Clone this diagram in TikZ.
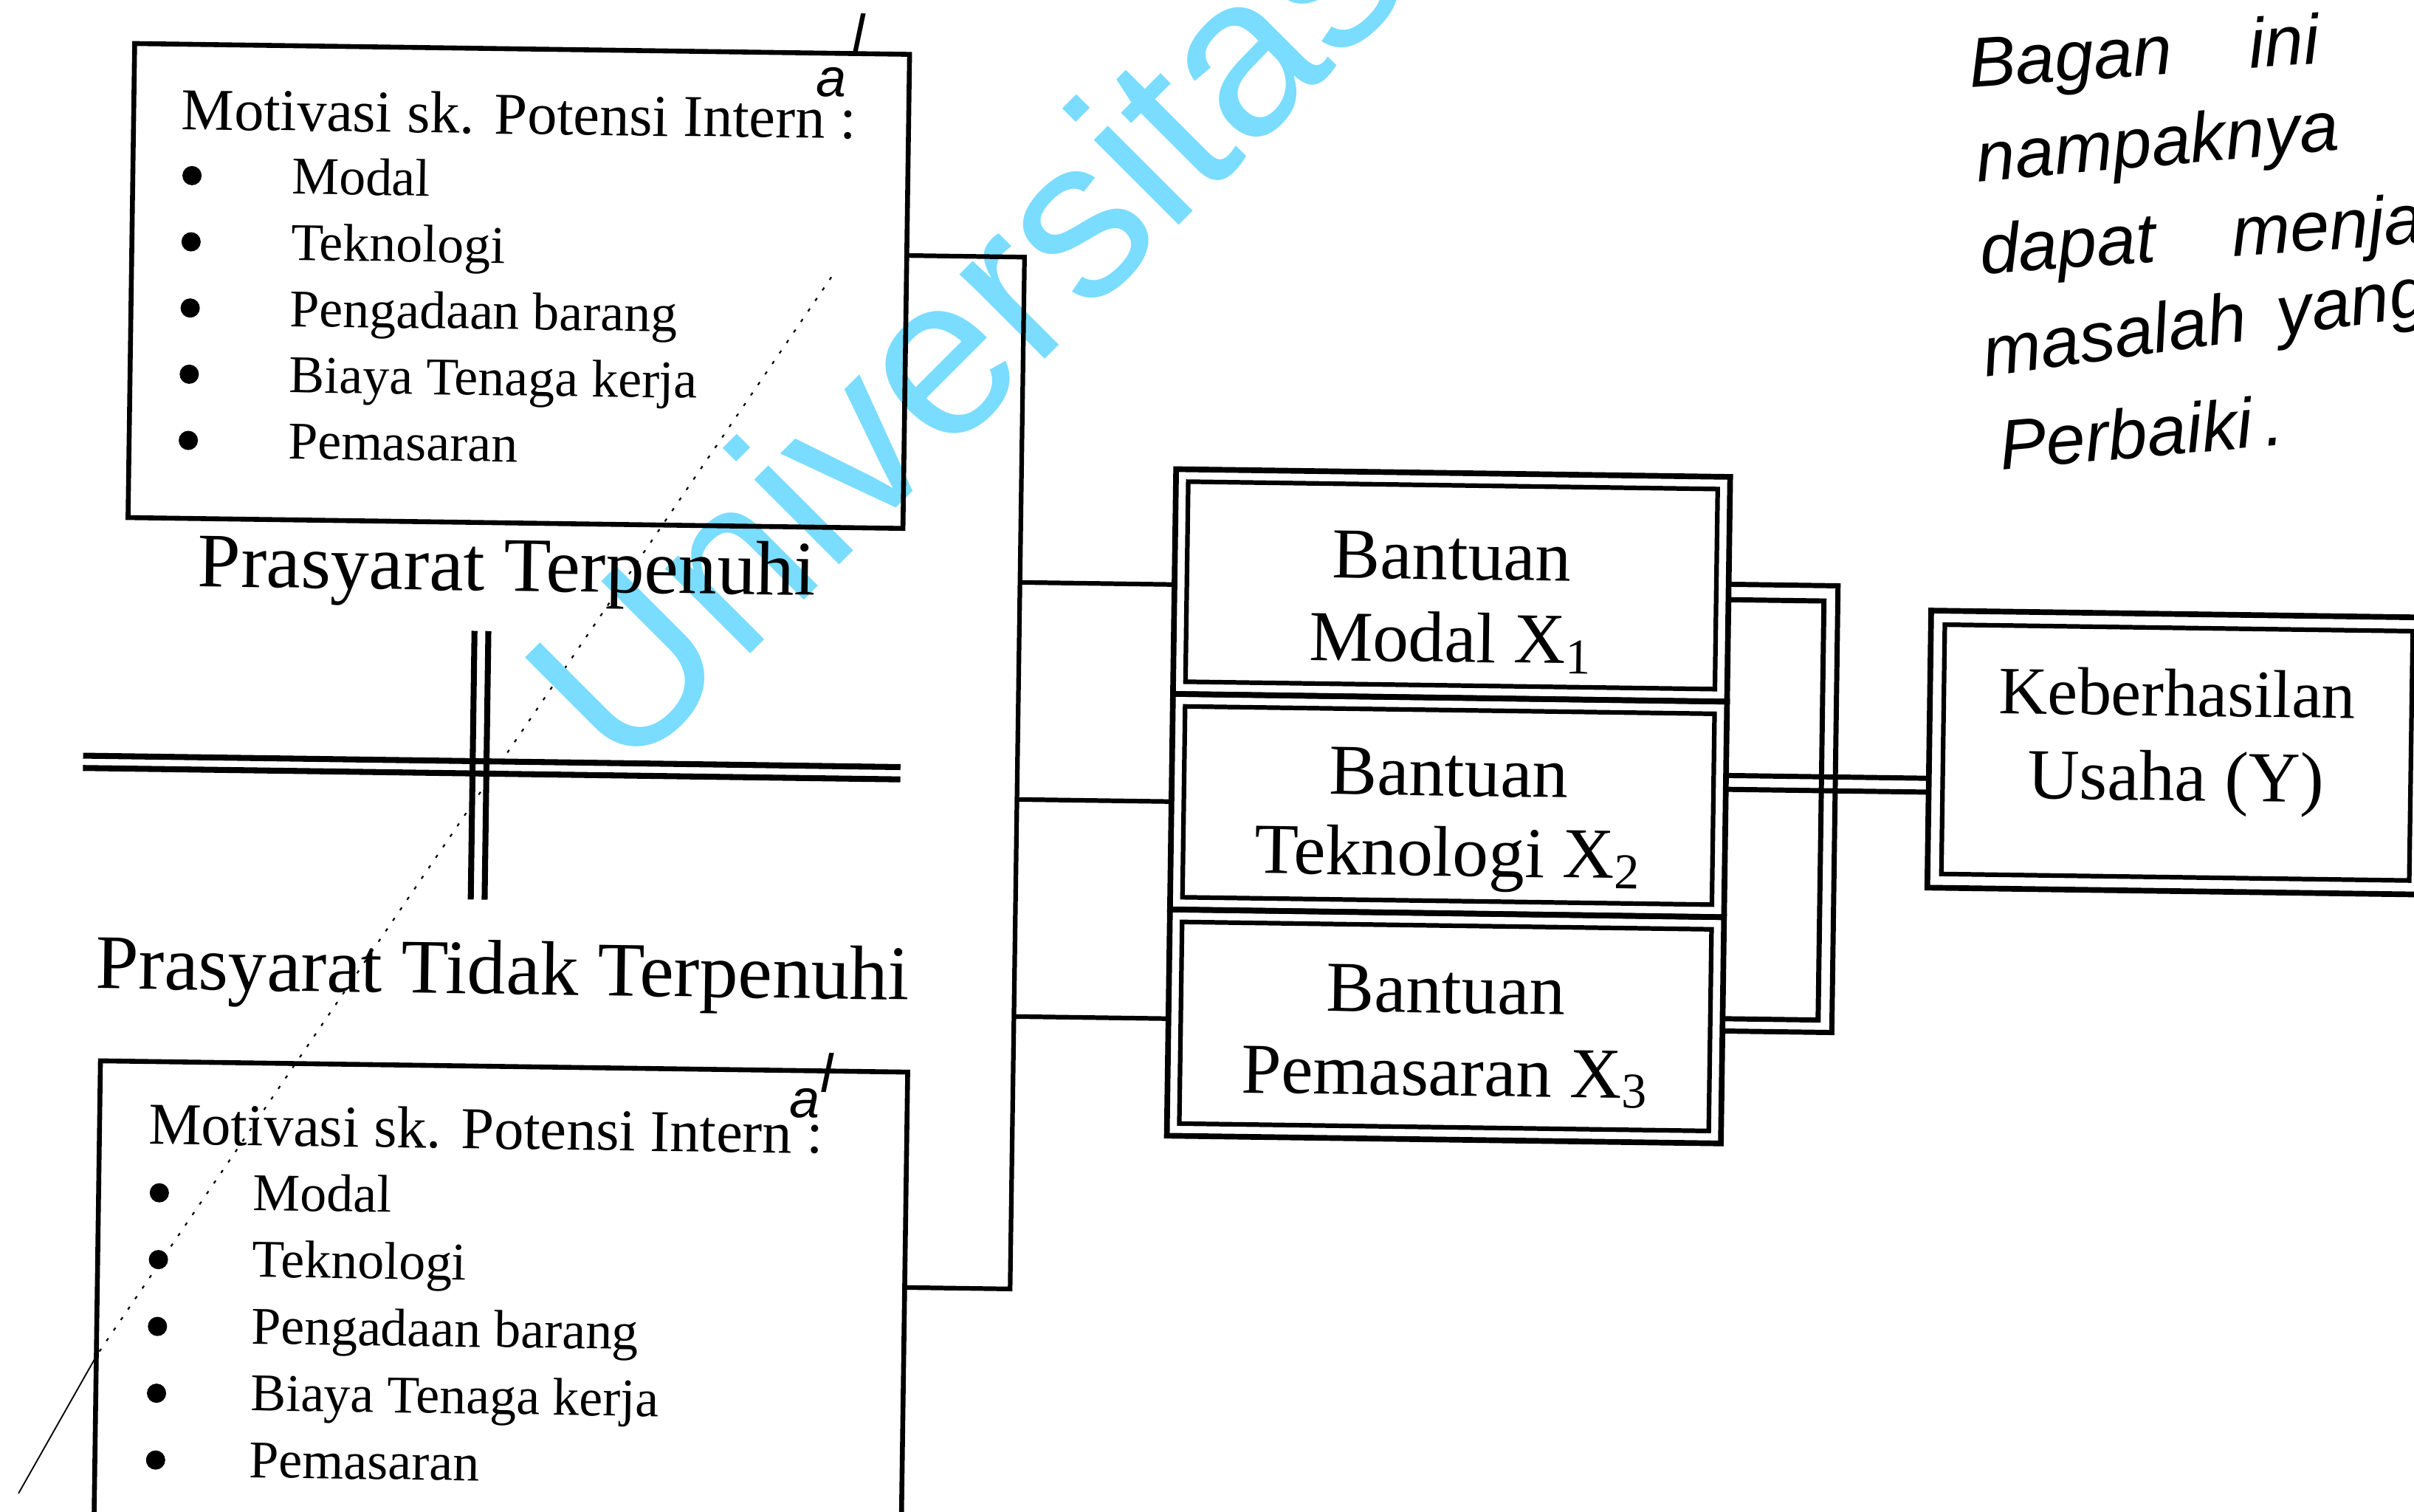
\documentclass[tikz,border=0pt]{standalone}
\usepackage{fontspec}
\setmainfont{Liberation Serif}
\newfontfamily\handfont{Liberation Sans}
\newfontfamily\wmfont{Liberation Sans}
\definecolor{wmcyan}{RGB}{122,220,255}
\begin{document}
\begin{tikzpicture}[x=0.02cm,y=-0.02cm,
  lbl/.style={inner sep=0pt, outer sep=0pt},
  hdrtext/.style={lbl, anchor=base west, font={\fontsize{21.9}{24}\selectfont}},
  itemtext/.style={lbl, anchor=base west, font={\fontsize{19.6}{22}\selectfont}},
  bigtext/.style={lbl, anchor=base west, font={\fontsize{28.5}{32}\selectfont}},
  bantext/.style={lbl, anchor=base, font={\fontsize{26.5}{29}\selectfont}},
  tbox/.style={draw, line width=1.8pt, inner sep=0pt, outer sep=0pt},
  obox/.style={draw, line width=2.1pt, inner sep=0pt, outer sep=0pt},
  ibox/.style={draw, line width=1.7pt, inner sep=0pt, outer sep=0pt},
  conn/.style={line width=1.7pt},
  dconn/.style={line width=1.9pt},
  crossline/.style={line width=2.2pt},
  dotmark/.style={circle, fill, inner sep=0pt, outer sep=0pt, minimum size=0.25cm},
  hand/.style={lbl, anchor=base west, font={\handfont\itshape\fontsize{26}{30}\selectfont}},
  handsmall/.style={lbl, font={\handfont\itshape\fontsize{20}{22}\selectfont}},
  wm/.style={lbl, anchor=base west, text=wmcyan, font={\wmfont\fontsize{84}{92}\selectfont}},
  pencildots/.style={line width=0.6pt, dash pattern=on 1.2pt off 3.5pt},
  pencilline/.style={line width=0.5pt}
]
\useasboundingbox (0,0) rectangle (1568,982);
\fill[white] (0,0) rectangle (1568,982);
\clip (0,0) rectangle (1568,982);

% pencil stroke
\coordinate (pa) at (540,180);
\coordinate (pb) at (63,880);
\coordinate (pc) at (12,970);
\draw[pencildots] (pa) -- (pb);
\draw[pencilline] (pb) -- (pc);

% watermark
\node[wm, rotate=45] (wm) at (405,507) {Universitas};

\begin{scope}[rotate around={-0.8:(784,491)}, transform shape]
  % top box
  \node[tbox, minimum width=10.07cm, minimum height=6.16cm] (topbox) at (332.75,192) {};
  \node[hdrtext] (tophdr) at (112.3,93.3) {Motivasi sk. Potensi Intern :};
  \node[handsmall] (topala) at (534,57) {a};
  \node[handsmall] (topall) at (551,25) {l};
  \node[dotmark] (tb1) at (119.5,123.3) {};
  \node[dotmark] (tb2) at (119.5,166.3) {};
  \node[dotmark] (tb3) at (119.5,209.3) {};
  \node[dotmark] (tb4) at (119.5,252.3) {};
  \node[dotmark] (tb5) at (119.5,295.3) {};
  \node[itemtext] (ti1) at (184.5,134.3) {Modal};
  \node[itemtext] (ti2) at (184.5,177.3) {Teknologi};
  \node[itemtext] (ti3) at (184.5,220.3) {Pengadaan barang};
  \node[itemtext] (ti4) at (184.5,263.3) {Biaya Tenaga kerja};
  \node[itemtext] (ti5) at (184.5,306.3) {Pemasaran};

  % labels and cross
  \node[bigtext] (lblyes) at (127,390.2) {Prasyarat Terpenuhi};
  \node[bigtext] (lblno) at (64.1,652.1) {Prasyarat Tidak Terpenuhi};
  \draw[crossline] (54,501) -- (585,501);
  \draw[crossline] (54,509) -- (585,509);
  \draw[crossline] (307.1,416.4) -- (307.1,590.9);
  \draw[crossline] (316.1,416.4) -- (316.1,590.9);

  % bottom box
  \node[tbox, minimum width=10.49cm, minimum height=6.22cm] (botbox) at (330.25,854.5) {};
  \node[hdrtext] (bothdr) at (100,752.6) {Motivasi sk. Potensi Intern :};
  \node[handsmall] (botala) at (526,720) {a};
  \node[handsmall] (botall) at (540,700) {l};
  \node[dotmark] (bb1) at (107.5,784.2) {};
  \node[dotmark] (bb2) at (107.5,827.6) {};
  \node[dotmark] (bb3) at (107.5,871) {};
  \node[dotmark] (bb4) at (107.5,914.4) {};
  \node[dotmark] (bb5) at (107.5,957.8) {};
  \node[itemtext] (bi1) at (168.6,794.7) {Modal};
  \node[itemtext] (bi2) at (168.6,838.1) {Teknologi};
  \node[itemtext] (bi3) at (168.6,881.5) {Pengadaan barang};
  \node[itemtext] (bi4) at (168.6,924.9) {Biaya Tenaga kerja};
  \node[itemtext] (bi5) at (168.6,968.3) {Pemasaran};

  % Bantuan boxes
  \node[obox, minimum width=7.2cm, minimum height=2.92cm] (b1) at (941.3,378) {};
  \node[ibox, minimum width=6.88cm, minimum height=2.6cm] (b1in) at (941.3,378) {};
  \node[bantext] (b1ta) at (941.3,374.2) {Bantuan};
  \node[bantext] (b1tb) at (941.3,427.8) {Modal X\textsubscript{1}};

  \node[obox, minimum width=7.2cm, minimum height=2.8cm] (b2) at (941.3,521) {};
  \node[ibox, minimum width=6.88cm, minimum height=2.48cm] (b2in) at (941.3,521) {};
  \node[bantext] (b2ta) at (941.3,514.8) {Bantuan};
  \node[bantext] (b2tb) at (941.3,566.8) {Teknologi X\textsubscript{2}};

  \node[obox, minimum width=7.2cm, minimum height=2.94cm] (b3) at (941.3,664.5) {};
  \node[ibox, minimum width=6.88cm, minimum height=2.62cm] (b3in) at (941.3,664.5) {};
  \node[bantext] (b3ta) at (941.3,655.8) {Bantuan};
  \node[bantext] (b3tb) at (941.3,709.4) {Pemasaran X\textsubscript{3}};

  % Keberhasilan box
  \node[obox, minimum width=6.44cm, minimum height=3.6cm] (kb) at (1414,480) {};
  \node[ibox, minimum width=6.08cm, minimum height=3.24cm] (kbin) at (1414,480) {};
  \node[bantext, font={\fontsize{25}{29}\selectfont}] (kbta) at (1413.6,456.2) {Keberhasilan};
  \node[bantext] (kbtb) at (1413.6,511.2) {Usaha (Y)};

  % left connectors
  \coordinate (jtop) at (661,168.7);
  \coordinate (jbot) at (661,839);
  \coordinate (j1) at (661,380);
  \coordinate (j2) at (661,521);
  \coordinate (j3) at (661,662);
  \draw[conn] (topbox.east |- jtop) -- (jtop) -- (jbot) -- (botbox.east |- jbot);
  \draw[conn] (j1) -- (b1.west |- j1);
  \draw[conn] (j2) -- (b2.west |- j2);
  \draw[conn] (j3) -- (b3.west |- j3);

  % right double connectors
  \coordinate (ro1) at (1192.4,374.8);
  \coordinate (ri1) at (1183.4,384.8);
  \coordinate (ri3) at (1183.4,657);
  \coordinate (ro3) at (1192.4,665);
  \coordinate (m1) at (1220,499);
  \coordinate (m2) at (1220,508);
  \draw[dconn] (b1.east |- ro1) -- (ro1) -- (ro3) -- (b3.east |- ro3);
  \draw[dconn] (b1.east |- ri1) -- (ri1) -- (ri3) -- (b3.east |- ri3);
  \draw[dconn] (b2.east |- m1) -- (kb.west |- m1);
  \draw[dconn] (b2.east |- m2) -- (kb.west |- m2);
\end{scope}

% handwritten note
\node[hand, rotate=4] (h1) at (1280,57) {Bagan\hspace{1cm}ini};
\node[hand, rotate=5] (h2) at (1285,118) {nampaknya};
\node[hand, rotate=4] (h3) at (1287,178) {dapat\hspace{1cm}menja};
\node[hand, rotate=8] (h4) at (1290,245) {masalah\hspace{0.4cm}yang};
\node[hand, rotate=5] (h5) at (1300,305) {Perbaiki\,.};
\end{tikzpicture}
\end{document}
